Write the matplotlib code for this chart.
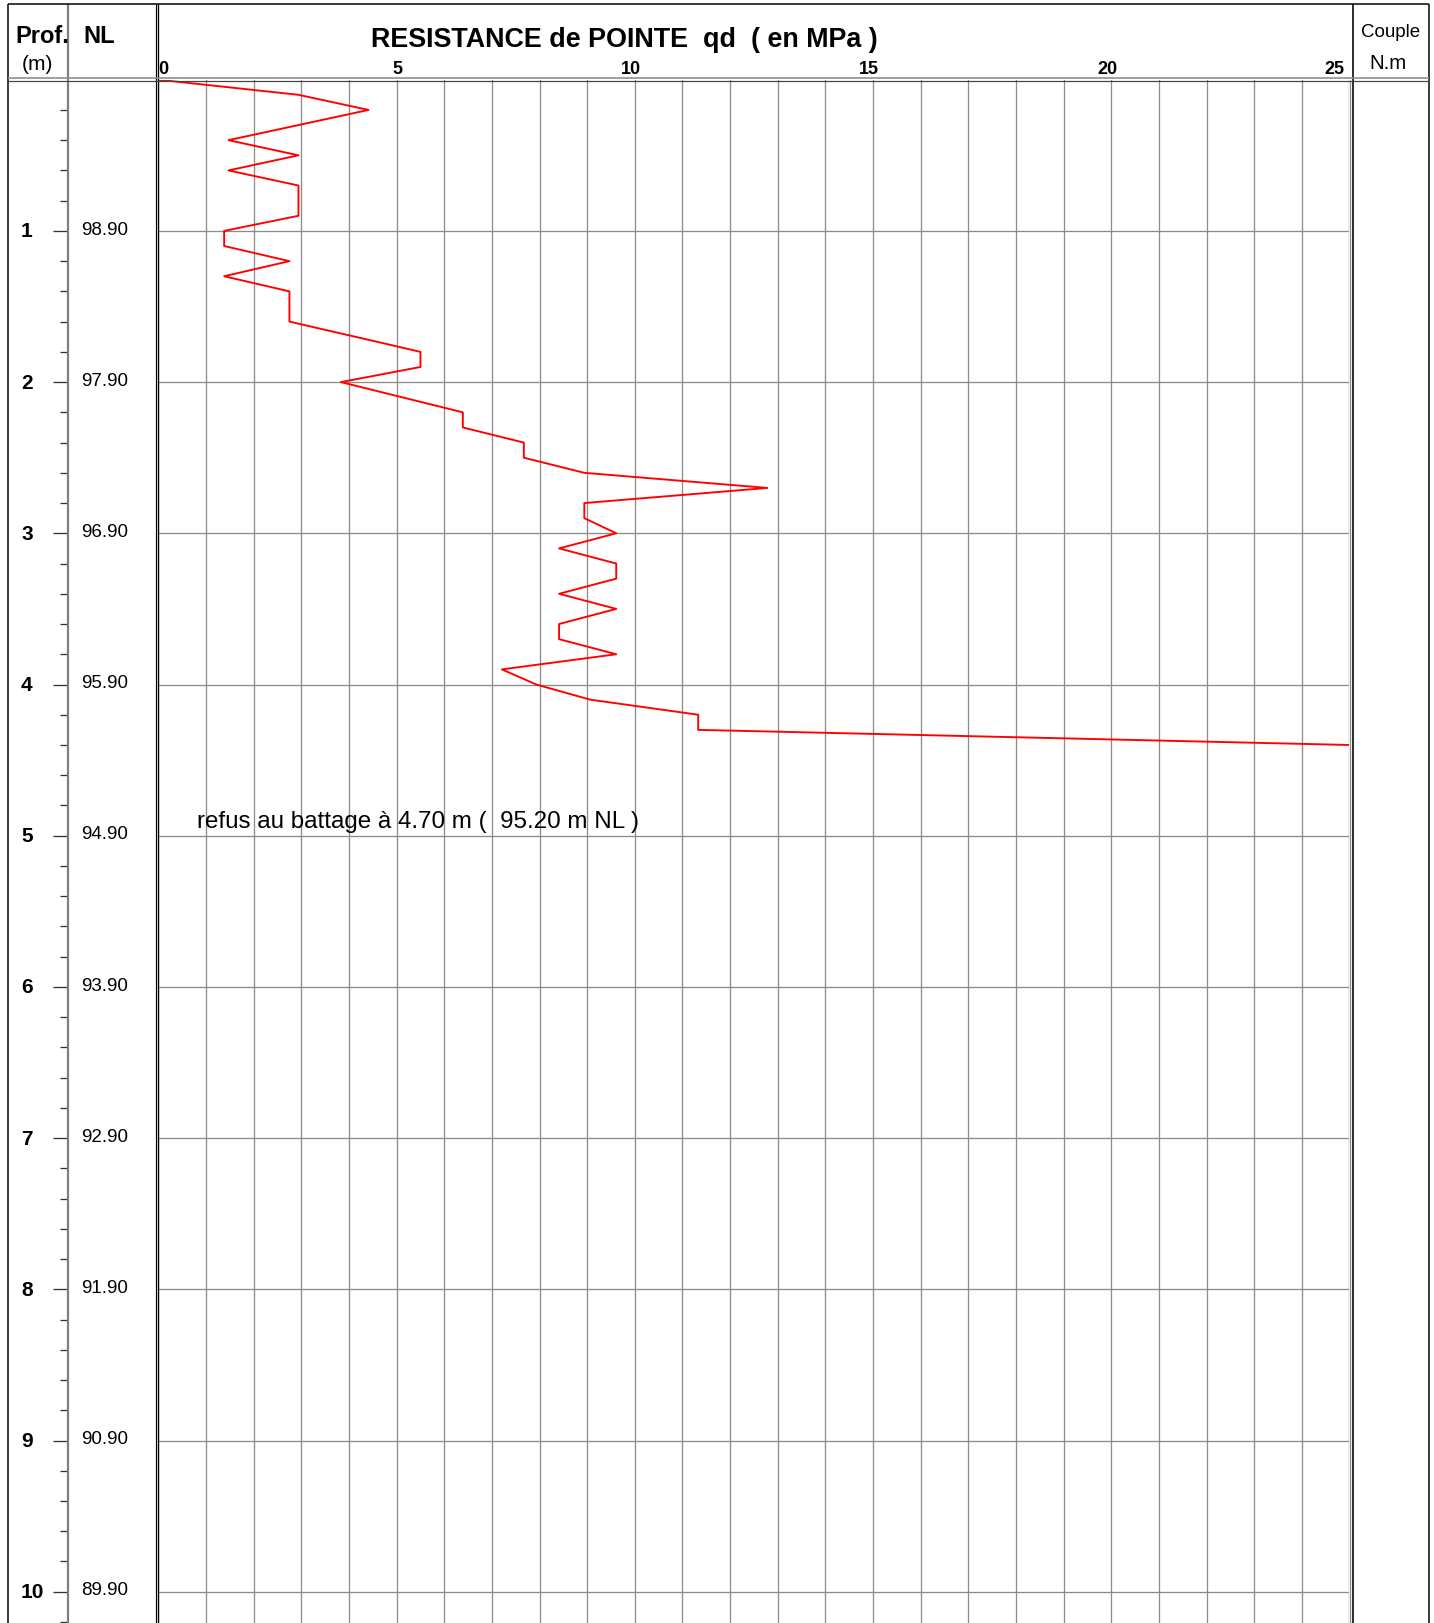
import matplotlib
matplotlib.use("Agg")
import matplotlib.pyplot as plt
from matplotlib import transforms

plt.rcParams['font.family'] = ['Liberation Sans', 'DejaVu Sans']

# Dynamic penetration record: depth (m) and point resistance qd (MPa)
depth = [0.0, 0.1, 0.2, 0.3, 0.4, 0.5, 0.6, 0.7, 0.8, 0.9,
         1.0, 1.1, 1.2, 1.3, 1.4, 1.5, 1.6, 1.7, 1.8, 1.9,
         2.0, 2.1, 2.2, 2.3, 2.4, 2.5, 2.6, 2.7, 2.8, 2.9,
         3.0, 3.1, 3.2, 3.3, 3.4, 3.5, 3.6, 3.7, 3.8, 3.9,
         4.0, 4.1, 4.2, 4.3, 4.4]
qd = [0.00, 2.94, 4.41, 2.94, 1.47, 2.94, 1.47, 2.94, 2.94, 2.94,
      1.38, 1.38, 2.75, 1.38, 2.75, 2.75, 2.75, 4.13, 5.50, 5.50,
      3.83, 5.11, 6.39, 6.39, 7.67, 7.67, 8.94, 12.78, 8.94, 8.94,
      9.61, 8.41, 9.61, 9.61, 8.41, 9.61, 8.41, 8.41, 9.61, 7.21,
      7.93, 9.06, 11.33, 11.33, 25.00]

depth_marks = [1, 2, 3, 4, 5, 6, 7, 8, 9, 10]
nl_levels = ["98.90", "97.90", "96.90", "95.90", "94.90",
             "93.90", "92.90", "91.90", "90.90", "89.90"]
minor_marks = [0.2, 0.4, 0.6, 0.8, 1.2, 1.4, 1.6, 1.8, 2.2, 2.4, 2.6, 2.8,
               3.2, 3.4, 3.6, 3.8, 4.2, 4.4, 4.6, 4.8, 5.2, 5.4, 5.6, 5.8,
               6.2, 6.4, 6.6, 6.8, 7.2, 7.4, 7.6, 7.8, 8.2, 8.4, 8.6, 8.8,
               9.2, 9.4, 9.6, 9.8, 10.2]
qd_ticks = [0, 5, 10, 15, 20, 25]
qd_max = 25
refusal_text = "refus au battage à 4.70 m (  95.20 m NL )"

# Sheet geometry in pixels (y measured downward from the top)
W, H, DPI = 1434, 1624, 100
X_FRAME_L, X_DIV, X_PLOT0, X_PLOT1, X_BORDER_R, X_RIGHT = 7.5, 68.0, 158.4, 1349.5, 1353.0, 1428.5
Y_TOP, Y_HEAD = 5.0, 80.7
PX_PER_M = 151.2
PX = 0.72  # one pixel in points at 100 dpi

depth_bottom = (H - Y_HEAD) / PX_PER_M

fig = plt.figure(figsize=(W / DPI, H / DPI), dpi=DPI)

# --- main qd panel -------------------------------------------------------
ax = fig.add_axes([X_PLOT0 / W, 0, (X_PLOT1 - X_PLOT0) / W, (H - Y_HEAD) / H])
ax.set_xlim(0, qd_max)
ax.set_ylim(depth_bottom, 0)
ax.set_xticks(range(0, qd_max + 1))
ax.set_yticks(depth_marks)
ax.tick_params(length=0, labelbottom=False, labelleft=False)
ax.grid(True, color='#8c8c8c', lw=1.3 * PX)
for s in ax.spines.values():
    s.set_visible(False)
ax.patch.set_visible(False)
ax.plot(qd, depth, color='#ff0000', lw=1.9 * PX, zorder=3, clip_on=True)
ax.text(0.81, 4.94, refusal_text, fontsize=17.4, ha='left', va='baseline', color='black')

# --- depth tick ruler ---------------------------------------------------------
axd = fig.add_axes([X_DIV / W, 0, (X_PLOT0 - X_DIV) / W, (H - Y_HEAD) / H])
axd.set_xlim(0, 1)
axd.set_ylim(depth_bottom, 0)
axd.set_xticks([])
axd.set_yticks(depth_marks)
axd.set_yticks(minor_marks, minor=True)
axd.tick_params(axis='y', which='major', direction='out', length=15 * PX,
                width=1.3 * PX, color='#333333', labelleft=False)
axd.tick_params(axis='y', which='minor', direction='out', length=8 * PX,
                width=1.3 * PX, color='#333333', labelleft=False)
for s in axd.spines.values():
    s.set_visible(False)
axd.patch.set_visible(False)

# --- sheet frame, header and column texts ----------------------------------
frame = fig.add_axes([0, 0, 1, 1], zorder=5)
frame.set_xlim(0, W)
frame.set_ylim(H, 0)
frame.axis('off')

def vline(x, color='black', lw=1.5, y0=Y_TOP, y1=H):
    frame.plot([x, x], [y0, y1], color=color, lw=lw * PX, solid_capstyle='butt')

def hline(y, color='black', lw=1.5, x0=X_FRAME_L, x1=X_RIGHT):
    frame.plot([x0, x1], [y, y], color=color, lw=lw * PX, solid_capstyle='butt')

vline(X_FRAME_L)
vline(X_DIV, color='#7f7f7f', lw=2.2)
vline(155.6, lw=1.2)
vline(X_PLOT0, lw=1.3)
vline(X_PLOT1, color='#8c8c8c', lw=1.3, y0=Y_HEAD)
vline(X_BORDER_R, lw=1.6)
vline(X_RIGHT, lw=1.5)
hline(Y_TOP, lw=1.5)
hline(79.3, color='#8c8c8c', lw=1.6)
hline(82.0, color='#444444', lw=1.2)

frame.text(15, 42.7, "Prof.", fontsize=17, fontweight='bold', ha='left', va='baseline')
frame.text(83, 42.7, "NL", fontsize=17, fontweight='bold', ha='left', va='baseline')
frame.text(37, 70, "(m)", fontsize=15, ha='center', va='baseline')
frame.text(624, 47, "RESISTANCE de POINTE  qd  ( en MPa )", fontsize=19.4,
           fontweight='bold', ha='center', va='baseline')
frame.text(1391, 32.5, "Couple", fontsize=13.5, ha='center', va='center')
frame.text(1388, 63.5, "N.m", fontsize=14.8, ha='center', va='center')

# qd scale labels along the header line
tick_trans = transforms.blended_transform_factory(ax.transData, frame.transData)
for v in qd_ticks:
    if v == qd_ticks[0]:
        ha, dx = 'left', 0
    elif v == qd_ticks[-1]:
        ha, dx = 'right', -5
    else:
        ha, dx = 'right', 6
    t = transforms.offset_copy(tick_trans, fig=fig, x=dx * PX, units='points')
    ax.text(v, 74.5, str(v), transform=t, fontsize=13, fontweight='bold',
            ha=ha, va='baseline', clip_on=False)

# depth and level labels
lab_trans = transforms.blended_transform_factory(frame.transData, ax.transData)
for d, nl in zip(depth_marks, nl_levels):
    frame.text(21, d, str(d), transform=lab_trans, fontsize=15, fontweight='bold',
               ha='left', va='center')
    frame.text(81, d - 0.012, nl, transform=lab_trans, fontsize=13.5,
               ha='left', va='center')

fig.savefig("out.png", dpi=DPI)
